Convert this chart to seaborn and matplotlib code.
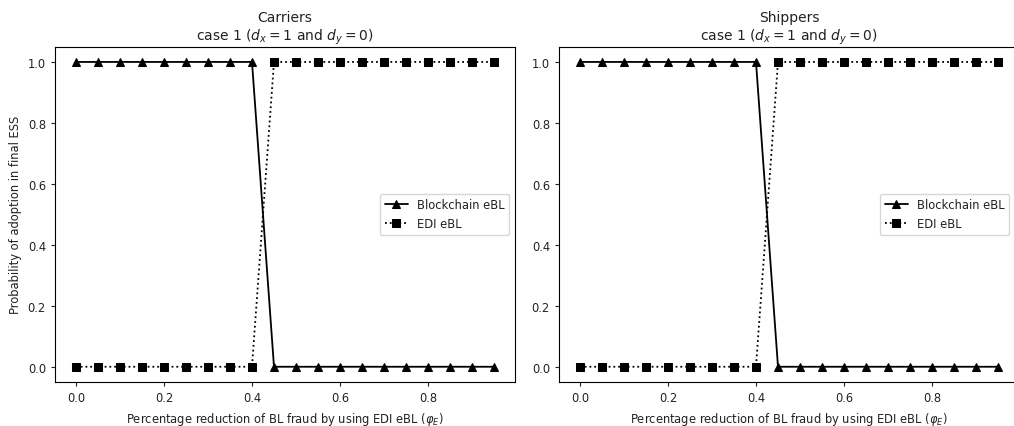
import numpy as np
import pandas as pd
import matplotlib
matplotlib.use("Agg")
import matplotlib.pyplot as plt
import seaborn as sns

phi_e = [0.0, 0.05, 0.1, 0.15, 0.2, 0.25, 0.3, 0.35, 0.4, 0.45,
         0.5, 0.55, 0.6, 0.65, 0.7, 0.75, 0.8, 0.85, 0.9, 0.95]
carriers_blockchain = [1, 1, 1, 1, 1, 1, 1, 1, 1, 0, 0, 0, 0, 0, 0, 0, 0, 0, 0, 0]
carriers_edi = [0, 0, 0, 0, 0, 0, 0, 0, 0, 1, 1, 1, 1, 1, 1, 1, 1, 1, 1, 1]
shippers_blockchain = [1, 1, 1, 1, 1, 1, 1, 1, 1, 0, 0, 0, 0, 0, 0, 0, 0, 0, 0, 0]
shippers_edi = [0, 0, 0, 0, 0, 0, 0, 0, 0, 1, 1, 1, 1, 1, 1, 1, 1, 1, 1, 1]
titles = ["Carriers", "Shippers"]

sns.set_style("ticks", {"axes.edgecolor": "black", "xtick.color": "#222222",
                        "ytick.color": "#222222", "text.color": "#222222",
                        "axes.labelcolor": "#222222"})
FS = 8.3
plt.rcParams["font.family"] = ["DejaVu Sans"]
plt.rcParams["font.size"] = FS
plt.rcParams["xtick.major.size"] = 3
plt.rcParams["ytick.major.size"] = 3

fig = plt.figure(figsize=(10.14, 4.27), dpi=100)
W, H = 1014.0, 427.0
ax1 = fig.add_axes([55 / W, (427 - 383) / H, 460 / W, 335.3 / H])
ax2 = fig.add_axes([559 / W, (427 - 383) / H, 460 / W, 335.3 / H])
axes = [ax1, ax2]

data = [(carriers_blockchain, carriers_edi), (shippers_blockchain, shippers_edi)]
for i, ax in enumerate(axes):
    bc, edi = data[i]
    df = pd.DataFrame({"x": phi_e, "bc": bc, "edi": edi})
    sns.lineplot(data=df, x="x", y="bc", ax=ax, color="black", marker="^",
                 markersize=5.5, linewidth=1.3, linestyle="-", label="Blockchain eBL",
                 markeredgecolor="black")
    sns.lineplot(data=df, x="x", y="edi", ax=ax, color="black", marker="s",
                 markersize=5.5, linewidth=1.3, linestyle=":", label="EDI eBL",
                 markeredgecolor="black")
    ax.set_title(titles[i] + "\ncase 1 ($d_x=1$ and $d_y=0$)", fontsize=10, pad=5)
    ax.set_xlabel("Percentage reduction of BL fraud by using EDI eBL ($\\varphi_E$)", fontsize=FS)
    ax.set_ylabel("Probability of adoption in final ESS" if i == 0 else "", fontsize=FS)
    ax.set_xticks([0.0, 0.2, 0.4, 0.6, 0.8])
    ax.set_yticks([0.0, 0.2, 0.4, 0.6, 0.8, 1.0])
    ax.tick_params(labelsize=FS)
    ax.set_xlim(-0.0475, 0.9975)
    ax.set_ylim(-0.05, 1.05)
    for s in ax.spines.values():
        s.set_visible(True)
        s.set_linewidth(0.8)
    anchor_x = 1.0 if i == 0 else 1.0 - 4 / 460
    ax.legend(loc="center right", bbox_to_anchor=(anchor_x, 0.5), fontsize=FS,
              frameon=True, handlelength=2, borderpad=0.4, labelspacing=0.5)

fig.savefig("out.png", dpi=100)
